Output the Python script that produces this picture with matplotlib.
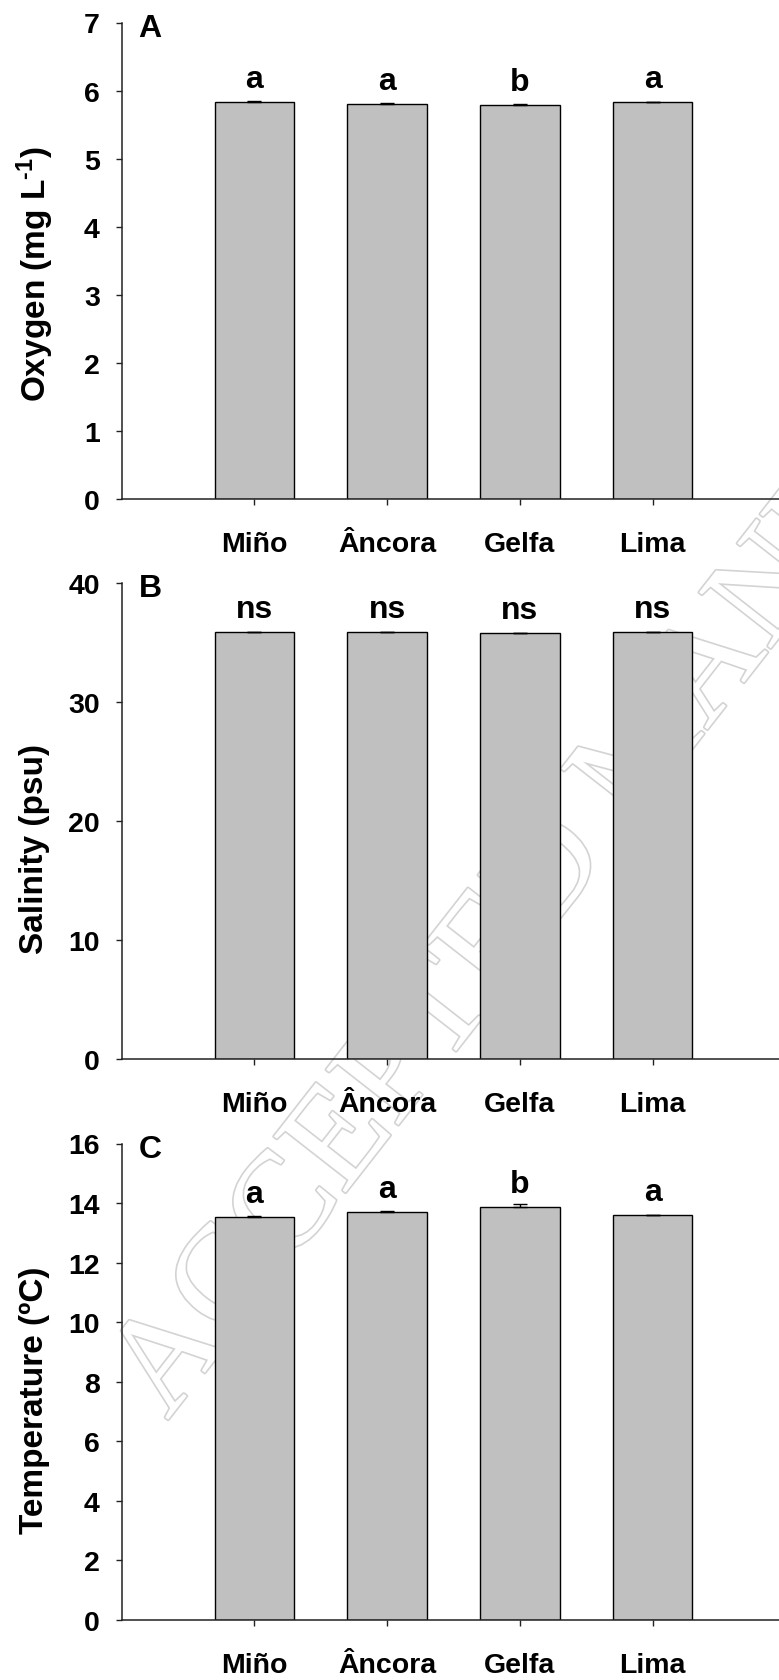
import matplotlib
matplotlib.use('Agg')
import matplotlib.pyplot as plt
import matplotlib.patheffects as pe
import numpy as np

plt.rcParams['font.family'] = 'Liberation Sans'
plt.rcParams['font.weight'] = 'bold'
plt.rcParams['mathtext.fontset'] = 'custom'
plt.rcParams['mathtext.rm'] = 'Liberation Sans:bold'
plt.rcParams['mathtext.default'] = 'rm'

# data
sites = ['Miño', 'Âncora', 'Gelfa', 'Lima']

oxygen = [5.83, 5.81, 5.79, 5.825]
oxygen_err = [0.01, 0.01, 0.01, 0.01]
oxygen_letters = ['a', 'a', 'b', 'a']

salinity = [35.85, 35.85, 35.78, 35.86]
salinity_err = [0.02, 0.02, 0.02, 0.02]
salinity_letters = ['ns', 'ns', 'ns', 'ns']

temperature = [13.52, 13.69, 13.87, 13.59]
temperature_err = [0.03, 0.03, 0.09, 0.02]
temperature_letters = ['a', 'a', 'b', 'a']

W, H = 779, 1681
fig = plt.figure(figsize=(W / 100, H / 100), dpi=100)

# faint watermark behind everything
fig.text(648 / W, 1 - 752 / H, 'ACCEPTED MANUSCRIPT', family='Liberation Serif',
         weight='normal', fontsize=100, color='white', rotation=52,
         rotation_mode='anchor', ha='center', va='center', zorder=-10,
         path_effects=[pe.withStroke(linewidth=2.4, foreground='#d3d3d3')])

panels = [
    ('A', oxygen, oxygen_err, oxygen_letters, 7, 1, 'Oxygen (mg L$^{\\text{-1}}$)', 500, 274),
    ('B', salinity, salinity_err, salinity_letters, 40, 10, 'Salinity (psu)', 1060, 849),
    ('C', temperature, temperature_err, temperature_letters, 16, 2, 'Temperature (ºC)', 1621, 1400),
]

ax_left, ax_right = 121.7, 785.3
ax_h = 476.5
x = np.arange(1, len(sites) + 1)

for tag, vals, err, letters, ymax, ystep, ylabel, y0, ylab_y in panels:
    ax = fig.add_axes([ax_left / W, 1 - y0 / H, (ax_right - ax_left) / W, ax_h / H])
    ax.set_facecolor('none')
    ax.bar(x, vals, width=0.6, color='#c0c0c0', edgecolor='black', linewidth=1.0, zorder=2)
    ax.errorbar(x, vals, yerr=[np.zeros(len(vals)), err], fmt='none', ecolor='black',
                elinewidth=1.0, capsize=5, capthick=1.0, zorder=3)
    for xi, v, lab in zip(x, vals, letters):
        ax.annotate(lab, xy=(xi, v), xytext=(0, 10.8), textcoords='offset points',
                    ha='center', va='baseline', fontsize=23, fontweight='bold')
    ax.set_xlim(0, 5)
    ax.set_ylim(0, ymax)
    ax.set_yticks(np.arange(0, ymax + ystep / 2, ystep))
    ax.set_xticks(x)
    ax.set_xticklabels(sites)
    for lbl in ax.get_xticklabels():
        lbl.set_va('baseline')
    ax.tick_params(axis='y', direction='out', length=4.3, width=1.0, pad=11.5,
                   labelsize=20.5, color='#222222')
    ax.tick_params(axis='x', direction='out', length=4.3, width=1.0, pad=32.9,
                   labelsize=20.5, color='#222222')
    for s in ['top', 'right']:
        ax.spines[s].set_visible(False)
    for s in ['left', 'bottom']:
        ax.spines[s].set_linewidth(1.1)
        ax.spines[s].set_color('#222222')
    ax.text(17 / (ax_right - ax_left), 0.972, tag, transform=ax.transAxes,
            ha='left', va='baseline', fontsize=23, fontweight='bold')
    fig.text(35 / W, 1 - ylab_y / H, ylabel, rotation=90, ha='center', va='center',
             fontsize=24, fontweight='bold')

fig.savefig('out.png', dpi=100)
